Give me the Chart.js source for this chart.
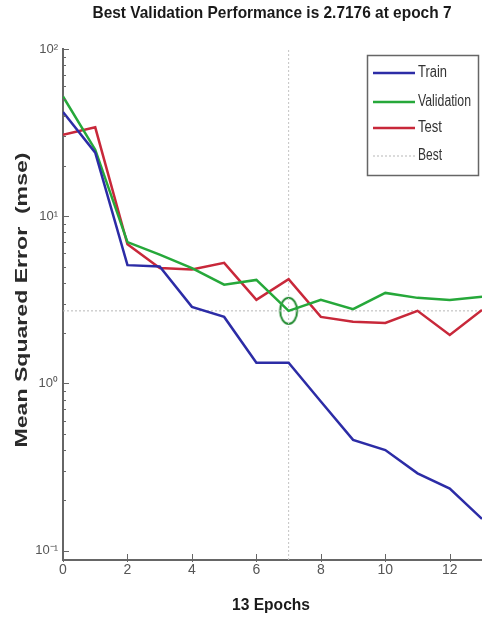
<!DOCTYPE html>
<html>
<head>
<meta charset="utf-8">
<script src="https://cdn.jsdelivr.net/npm/chart.js@4.4.1/dist/chart.umd.min.js"></script>
<style>
  body { margin: 0; background: #fff; }
  #wrap { width: 482px; height: 617px; }
</style>
</head>
<body>
<div id="wrap"><canvas id="perf" width="482" height="617"></canvas></div>
<script>
// values
var epochs = [0, 1, 2, 3, 4, 5, 6, 7, 8, 9, 10, 11, 12, 13];
var train = [42, 24, 5.1, 5.0, 2.87, 2.5, 1.33, 1.33, 0.78, 0.46, 0.40, 0.29, 0.235, 0.155];
var validation = [52, 25, 7.0, 5.9, 4.9, 3.9, 4.16, 2.7176, 3.16, 2.78, 3.48, 3.25, 3.16, 3.3];
var test = [30.7, 34, 6.8, 4.9, 4.8, 5.26, 3.16, 4.2, 2.5, 2.34, 2.3, 2.72, 1.95, 2.75];
var xTicks = [0, 2, 4, 6, 8, 10, 12];
var yTicks = [0.1, 1, 10, 100];
var yTickLabels = ['10\u207B\u00B9', '10\u2070', '10\u00B9', '10\u00B2'];
var bestEpoch = 7;
var bestPerf = 2.7176;

var sans = '"Liberation Sans", Arial, sans-serif';

function pts(arr) {
    var out = [];
    for (var i in arr) out.push({x: epochs[i], y: arr[i]});
    return out;
}

// text squeezed or stretched to a given width, the source image is resized unevenly
function fitText(ctx, text, x, y, width) {
    var w = ctx.measureText(text).width;
    ctx.save();
    ctx.translate(x, y);
    ctx.scale(width / w, 1);
    ctx.fillText(text, 0, 0);
    ctx.restore();
}

// ellipse marker for the best point
var ring = document.createElement('canvas');
ring.width = 22; ring.height = 30;
var rc = ring.getContext('2d');
rc.strokeStyle = '#1f8a2e';
rc.lineWidth = 2;
rc.beginPath();
rc.ellipse(11, 15, 8.5, 13, 0, 0, Math.PI * 2);
rc.stroke();

var extras = {
    id: 'extras',
    afterDraw: function(chart) {
        var ctx = chart.ctx;
        var xs = chart.scales.x, ys = chart.scales.y;
        var a = chart.chartArea;
        ctx.save();
        // inward ticks
        ctx.strokeStyle = '#666';
        ctx.lineWidth = 1;
        ctx.beginPath();
        for (var i in xTicks) {
            var px = Math.round(xs.getPixelForValue(xTicks[i])) + 0.5;
            ctx.moveTo(px, a.bottom + 2);
            ctx.lineTo(px, a.bottom - 6);
        }
        for (var d = -1; d < 2; d++) {
            for (var m = 1; m < 10; m++) {
                var v = m * Math.pow(10, d);
                var py = Math.round(ys.getPixelForValue(v)) + 0.5;
                ctx.moveTo(a.left, py);
                ctx.lineTo(a.left + (m == 1 ? 6 : 3), py);
            }
        }
        var top = Math.round(ys.getPixelForValue(100)) + 0.5;
        ctx.moveTo(a.left, top);
        ctx.lineTo(a.left + 6, top);
        ctx.stroke();

        // title and x label
        ctx.fillStyle = '#1a1a1a';
        ctx.textAlign = 'center';
        ctx.textBaseline = 'middle';
        ctx.font = 'bold 17px ' + sans;
        fitText(ctx, 'Best Validation Performance is ' + bestPerf + ' at epoch ' + bestEpoch, 272, 13, 359);
        ctx.font = 'bold 16px ' + sans;
        fitText(ctx, epochs.length - 1 + ' Epochs', 271, 606, 78);

        // y label, stretched along its length
        ctx.save();
        ctx.translate(22, 300);
        ctx.rotate(-Math.PI / 2);
        ctx.font = 'bold 17px ' + sans;
        ctx.fillStyle = '#2a2a2a';
        fitText(ctx, 'Mean Squared Error  (mse)', 0, 0, 295);
        ctx.restore();

        // legend box
        var lx = 367, ly = 55, lw = 111, lh = 120;
        ctx.fillStyle = '#fff';
        ctx.fillRect(lx, ly, lw, lh);
        ctx.strokeStyle = '#666';
        ctx.lineWidth = 1.5;
        ctx.strokeRect(lx + 0.5, ly + 0.5, lw, lh);
        var names = ['Train', 'Validation', 'Test', 'Best'];
        var widths = [29, 53, 24, 24];
        var rows = [73, 102, 128, 156];
        ctx.textAlign = 'left';
        ctx.font = '16px ' + sans;
        for (var k = 0; k < 4; k++) {
            var ds = chart.data.datasets[k];
            ctx.strokeStyle = ds.borderColor;
            ctx.lineWidth = ds.borderWidth;
            ctx.setLineDash(ds.borderDash || []);
            ctx.beginPath();
            ctx.moveTo(373, rows[k]);
            ctx.lineTo(415, rows[k]);
            ctx.stroke();
            ctx.setLineDash([]);
            ctx.fillStyle = '#333';
            fitText(ctx, names[k], 418, rows[k], widths[k]);
        }
        ctx.restore();
    }
};

new Chart(document.getElementById('perf'), {
    type: 'line',
    data: {
        datasets: [
            {label: 'Train', data: pts(train), borderColor: '#2c2ca6', borderWidth: 2.5, pointRadius: 0, tension: 0},
            {label: 'Validation', data: pts(validation), borderColor: '#26a83a', borderWidth: 2.5, pointRadius: 0, tension: 0},
            {label: 'Test', data: pts(test), borderColor: '#c8283a', borderWidth: 2.5, pointRadius: 0, tension: 0},
            {label: 'Best', data: [{x: 0, y: bestPerf}, {x: 13, y: bestPerf}], borderColor: '#b8b8b8', borderWidth: 1, borderDash: [2, 2], pointRadius: 0},
            {label: 'BestV', data: [{x: bestEpoch, y: 0.088}, {x: bestEpoch, y: 100}], borderColor: '#c4c4c4', borderWidth: 1, borderDash: [2, 2], pointRadius: 0},
            {label: 'BestPt', data: [{x: bestEpoch, y: bestPerf}], showLine: false, pointStyle: ring, pointRadius: 10}
        ]
    },
    options: {
        responsive: false,
        animation: false,
        layout: {autoPadding: false, padding: {top: 49, right: 0, left: 0, bottom: 0}},
        plugins: {legend: {display: false}, title: {display: false}, tooltip: {enabled: false}},
        scales: {
            x: {
                type: 'linear', min: 0, max: 13,
                grid: {display: false, drawTicks: false},
                border: {display: true, color: '#666', width: 2},
                afterBuildTicks: function(s) { s.ticks = xTicks.map(function(v) { return {value: v}; }); },
                afterFit: function(s) { s.height = 57; },
                ticks: {color: '#555', padding: 2, maxRotation: 0, font: {family: sans, size: 14}}
            },
            y: {
                type: 'logarithmic', min: 0.088, max: 100,
                grid: {display: false, drawTicks: false},
                border: {display: true, color: '#666', width: 2},
                afterBuildTicks: function(s) { s.ticks = yTicks.map(function(v) { return {value: v}; }); },
                afterFit: function(s) { s.width = 63; },
                ticks: {
                    color: '#555', padding: 5, font: {family: sans, size: 13},
                    callback: function(v) { var i = yTicks.indexOf(v); return i < 0 ? '' : yTickLabels[i]; }
                }
            }
        }
    },
    plugins: [extras]
});
</script>
</body>
</html>
